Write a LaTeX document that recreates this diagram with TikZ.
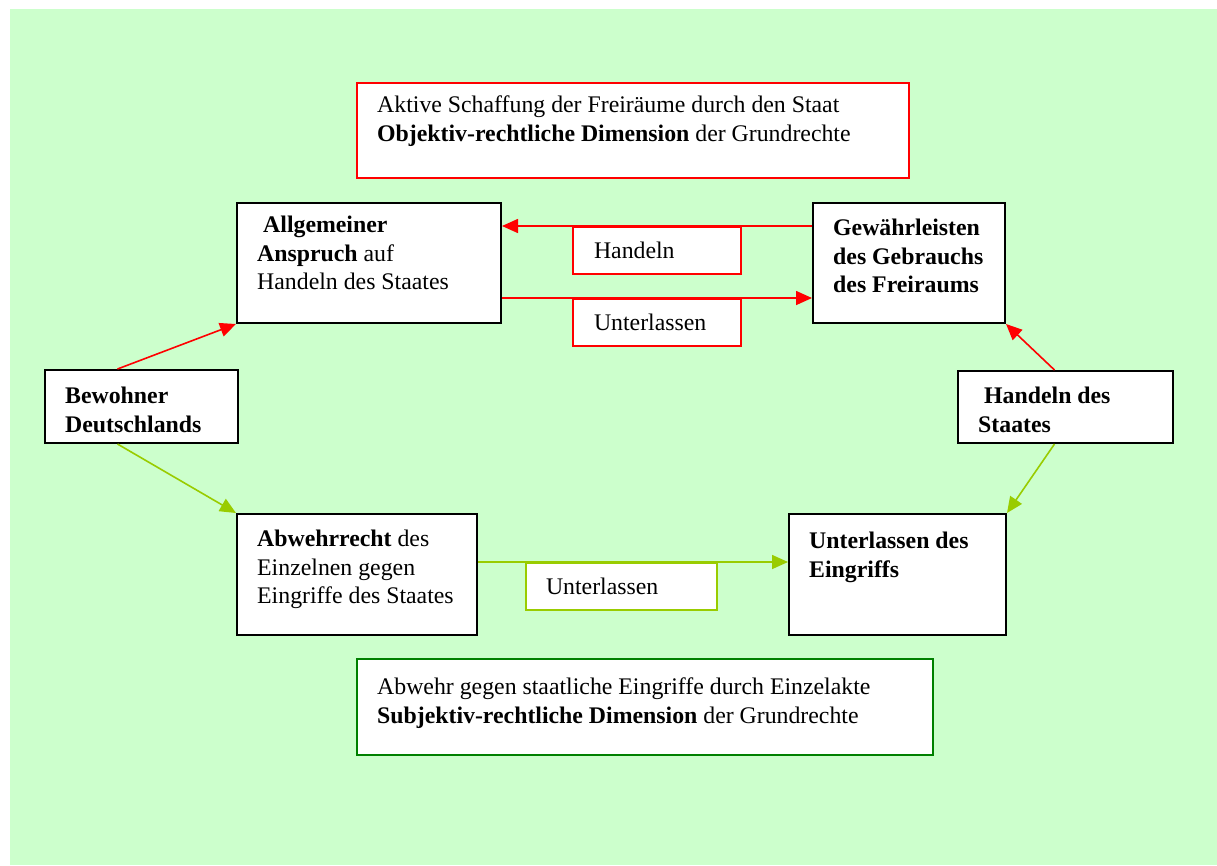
\documentclass[tikz,border=0pt]{standalone}
\usepackage{fontspec}
\setmainfont{Liberation Serif}
\usetikzlibrary{arrows.meta}
\definecolor{bggreen}{HTML}{CCFFCC}
\definecolor{lgreen}{HTML}{99CC00}
\definecolor{dgreen}{HTML}{008000}
\newcommand\bodyfont{\fontsize{23.8}{28.5}\selectfont}

\begin{document}
\begin{tikzpicture}[x=1pt,y=-1pt,font=\bodyfont,
  box/.style n args={3}{draw=#1,fill=white,line width=2pt,anchor=north west,inner sep=0pt,minimum width=#2,minimum height=#3},
  txt/.style={anchor=north west,inner sep=0pt,align=left,execute at begin node={\rule{0pt}{20pt}}},
  lab/.style n args={3}{draw=#1,fill=white,line width=2pt,anchor=north west,inner xsep=#2,inner ysep=0pt,text width=#3,align=left,minimum height=47pt},
  redarr/.style={red,line width=1.6pt,-{Triangle[length=16pt,width=14pt]}},
  grnarr/.style={lgreen,line width=1.6pt,-{Triangle[length=16pt,width=14pt]}}]
\useasboundingbox (0,0) rectangle (1217,865);
\fill[bggreen] (10,9) rectangle (1217,865);
% boxes with their texts
\foreach \nm/\cc/\xx/\yy/\ww/\hh/\oy/\tx in {%
  obj/red/356/82/552pt/95pt/14/{Aktive Schaffung der Freiräume durch den Staat\\\textbf{Objektiv-rechtliche Dimension} der Grundrechte},
  allg/black/236/202/264pt/120pt/14/{\hspace*{6pt}\textbf{Allgemeiner}\\\textbf{Anspruch} auf\\Handeln des Staates},
  gew/black/812/202/192pt/120pt/17/{\textbf{Gewährleisten}\\\textbf{des Gebrauchs}\\\textbf{des Freiraums}},
  bew/black/44/369/193pt/73pt/18/{\textbf{Bewohner}\\\textbf{Deutschlands}},
  hds/black/957/370/215pt/72pt/17/{\hspace*{6pt}\textbf{Handeln des}\\\textbf{Staates}},
  abw/black/236/513/240pt/121pt/17/{\textbf{Abwehrrecht} des\\Einzelnen gegen\\Eingriffe des Staates},
  eing/black/788/513/217pt/121pt/19/{\textbf{Unterlassen des}\\\textbf{Eingriffs}},
  subj/dgreen/356/658/576pt/96pt/20/{Abwehr gegen staatliche Eingriffe durch Einzelakte\\\textbf{Subjektiv-rechtliche Dimension} der Grundrechte}%
}{
  \node[box={\cc}{\ww}{\hh}] (\nm) at (\xx,\yy) {};
  \node[txt] (\nm-t) at ([shift={(21,\oy)}]\nm.north west) {\tx};
}
% labels on the arrows
\node[lab={red}{21pt}{126pt}] (hand) at (572,226) {Handeln};
\node[lab={red}{21pt}{126pt}] (unt) at (572,298) {Unterlassen};
\node[lab={lgreen}{20pt}{151pt}] (untg) at (525,562) {Unterlassen};
% arrows
\draw[redarr] (hand.north -| gew.west) -- (hand.north -| allg.east);
\draw[redarr] (unt.north -| allg.east) -- (unt.north -| gew.west);
\draw[grnarr] (untg.north -| abw.east) -- (untg.north -| eing.west);
\draw[redarr] ([xshift=-24pt]bew.north) -- (allg.south west);
\draw[grnarr] ([xshift=-24pt]bew.south) -- (abw.north west);
\draw[redarr] ([xshift=-11pt]hds.north) -- (gew.south east);
\draw[grnarr] ([xshift=-11pt]hds.south) -- (eing.north east);
\end{tikzpicture}
\end{document}
